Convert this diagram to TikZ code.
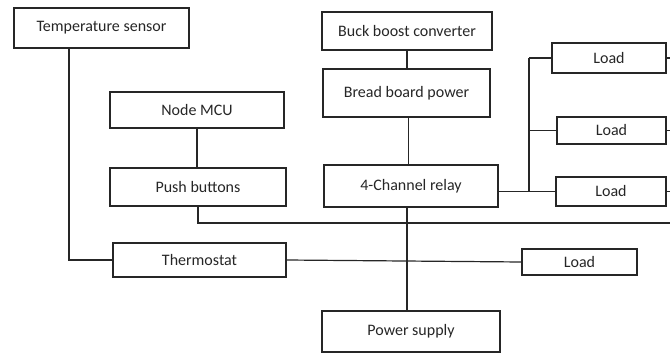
\documentclass[tikz,border=0pt]{standalone}
\usepackage{fontspec}
\setmainfont{Carlito}
\usetikzlibrary{positioning,calc}

\begin{document}
\begin{tikzpicture}[
    x=1pt, y=-1pt,
    box/.style={rectangle, draw=black!85, line width=1.2pt, align=center, inner sep=0pt, font=\fontsize{16}{19}\selectfont, text=black!85},
    loadbox/.style={box, minimum width=110pt, minimum height=28pt},
    wire/.style={draw=black!85, line width=1.2pt}
]
\useasboundingbox (0,0) rectangle (670,353);

% Left column
\node[box, minimum width=175pt, minimum height=40pt] (temp) at (101.5,28) {Temperature sensor};
\node[box, minimum width=174pt, minimum height=36pt] (mcu) at (197,110) {Node MCU};
\node[box, minimum width=176pt, minimum height=38pt] (push) at (198,187) {Push buttons};
\node[box, minimum width=173pt, minimum height=34pt] (thermo) at (199.5,260) {Thermostat};

% Middle column
\node[box, minimum width=170pt, minimum height=38pt] (buck) at (407,31) {Buck boost converter};
\node[box, minimum width=167pt, minimum height=48pt] (bread) at (406.5,93) {Bread board power};
\node[box, minimum width=174pt, minimum height=42pt] (relay) at (411,186) {4-Channel relay};
\node[box, minimum width=178pt, minimum height=41pt] (power) at (411,331.5) {Power supply};

% Loads
\node[loadbox, minimum width=114pt, minimum height=30pt] (load1) at (609,58) {Load};
\node[loadbox, minimum width=109pt, minimum height=27pt] (load2) at (611.5,130.5) {Load};
\node[loadbox, minimum height=29pt] (load3) at (611,191.5) {Load};
\node[loadbox, minimum width=115pt, minimum height=26pt] (load4) at (579.5,262) {Load};

% Joints and free ends
\coordinate (tempjoint) at (69,260);
\coordinate (ldbus) at (529,0);
\coordinate (edge) at (670,0);
\coordinate (busend) at (670,223);

% Temperature sensor to thermostat
\draw[wire] (temp.south -| tempjoint) -- (tempjoint) -- (thermo.west);
\draw[wire] (thermo.east) -- (load4.west);

% Node MCU and push buttons
\draw[wire] (mcu.south) -- (mcu.south |- push.north);
\draw[wire] (push.south) |- (busend);

% Power chain
\draw[wire] (buck.south) -- (buck.south |- bread.north);
\draw[wire] ($(bread.south)+(2,0)$) -- ($(bread.south |- relay.north)+(2,0)$);
\draw[wire] ($(relay.south)+(-4,0)$) -- ($(power.north)+(-4,0)$);

% Relay to loads
\draw[wire] (load3.west -| relay.east) -- (load3.west);
\draw[wire] (ldbus |- load1.west) -- (ldbus |- load3.west);
\draw[wire] (ldbus |- load1.west) -- (load1.west);
\draw[wire] (ldbus |- load2.west) -- (load2.west);
\foreach \n in {load1,load2,load3}
  \draw[wire] (\n.east) -- (\n.east -| edge);

\end{tikzpicture}
\end{document}
